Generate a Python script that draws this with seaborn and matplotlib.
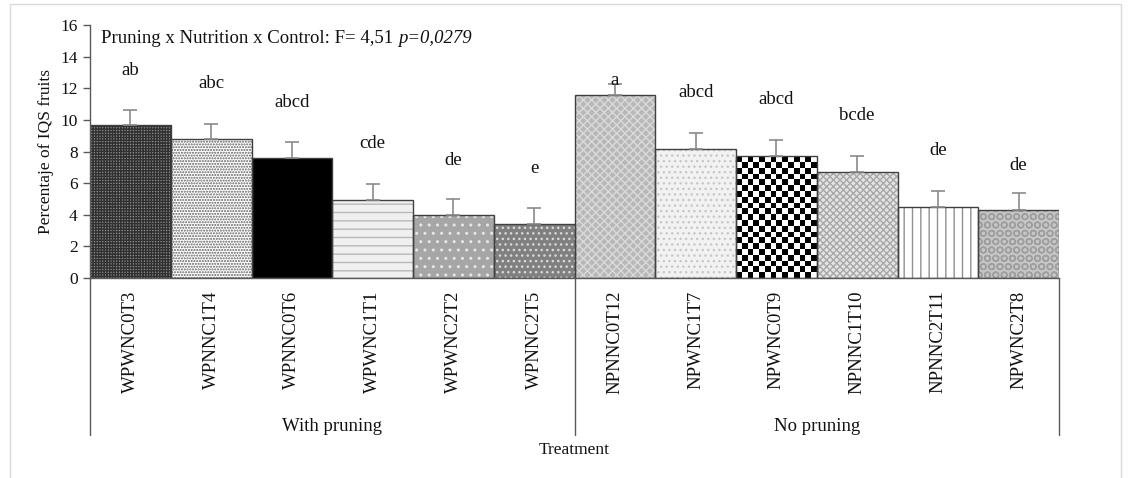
import numpy as np
import pandas as pd
import matplotlib
matplotlib.use("Agg")
import matplotlib.pyplot as plt
import seaborn as sns
from matplotlib.patches import Rectangle

# Data
treatments = ["WPWNC0T3", "WPNNC1T4", "WPNNC0T6", "WPWNC1T1", "WPWNC2T2", "WPNNC2T5",
              "NPNNC0T12", "NPWNC1T7", "NPWNC0T9", "NPNNC1T10", "NPNNC2T11", "NPWNC2T8"]
groups = ["With pruning", "No pruning"]
group_sizes = [6, 6]
means = [9.65, 8.77, 7.59, 4.95, 3.97, 3.41, 11.6, 8.18, 7.74, 6.70, 4.51, 4.32]
errors = [1.0, 1.0, 1.0, 1.0, 1.0, 1.02, 0.67, 1.0, 1.0, 1.02, 1.0, 1.03]
letters = ["ab", "abc", "abcd", "cde", "de", "e", "a", "abcd", "abcd", "bcde", "de", "de"]
letter_y = [13.15, 12.3, 11.1, 8.5, 7.45, 6.95, 12.5, 11.75, 11.3, 10.25, 8.05, 7.1]

# bar styles (face colour, hatch, hatch colour)
faces = ["#8c8c8c", "#ffffff", "#000000", "#f0f0f0", "#a6a6a6", "#808080",
         "#b8b8b8", "#f2f2f2", "#ffffff", "#e4e4e4", "#ffffff", "#c6c6c6"]
hatches = ["++++++", "......", "", "--", "..", "...",
           "xxxx", "...", "", "xxxxx", "||", "OO"]
hatch_cols = ["#303030", "#5f5f5f", "#000000", "#b8b8b8", "#e6e6e6", "#d9d9d9",
              "#dadada", "#c8c8c8", "#000000", "#a8a8a8", "#909090", "#9e9e9e"]

sns.set_theme(style="ticks")
plt.rcParams["font.family"] = ["Liberation Serif", "DejaVu Serif"]
plt.rcParams["hatch.linewidth"] = 1.0

fig = plt.figure(figsize=(11.28, 4.78), dpi=100)
ax = fig.add_axes([90 / 1128, 200 / 478, 969 / 1128, 253 / 478])

df = pd.DataFrame({"treatment": treatments, "value": means})
sns.barplot(data=df, x="treatment", y="value", hue="treatment", palette=faces,
            saturation=1, width=1.0, errorbar=None, legend=False,
            linewidth=0, ax=ax)

for p, h, hc in zip(ax.patches, hatches, hatch_cols):
    p.set_hatch(h)
    p.set_edgecolor(hc)
    p.set_linewidth(0)

xs = np.arange(len(treatments))
ax.bar(xs, means, width=1.0, fill=False, edgecolor="#404040", linewidth=1.0, zorder=2)
ax.errorbar(xs, means, yerr=[np.zeros(len(errors)), errors], fmt="none",
            ecolor="#8a8a8a", elinewidth=1.2, capsize=5, capthick=1.2, zorder=3)

ax.set_xlim(-0.5, len(treatments) - 0.5)
ax.set_ylim(0, 16)

# checkerboard fill for NPWNC0T9
p9 = ax.patches[8]
p9.set_facecolor("none")
bb = ax.get_window_extent()
px_x = bb.width / len(treatments)
px_y = bb.height / 16
ncols = 14
cell = p9.get_width() * px_x / ncols
nrows = int(np.ceil(p9.get_height() * px_y / cell))
board = np.indices((nrows, ncols)).sum(axis=0) % 2
im = ax.imshow(board, cmap="gray", interpolation="nearest", origin="lower", aspect="auto",
               extent=(p9.get_x(), p9.get_x() + p9.get_width(), 0, nrows * cell / px_y),
               zorder=0.9)
im.set_clip_path(p9)
ax.set_xlim(-0.5, len(treatments) - 0.5)
ax.set_ylim(0, 16)

for i, (lab, y) in enumerate(zip(letters, letter_y)):
    ax.text(i, y, lab, ha="center", va="center", fontsize=13.5, color="#111111")

t1 = ax.text(0.011, 0.945, "Pruning x Nutrition x Control: F= 4,51", transform=ax.transAxes,
             ha="left", va="center", fontsize=13.5, color="#111111")
ax.annotate("p=0,0279", xy=(1, 0), xycoords=t1, xytext=(3.5, 0), textcoords="offset points",
            ha="left", va="bottom", fontsize=13.5, style="italic", color="#111111")

# axes styling
axis_col = "#595959"
sns.despine(ax=ax)
for s in ["left", "bottom"]:
    ax.spines[s].set_color(axis_col)
    ax.spines[s].set_linewidth(1.0)
ax.set_yticks(range(0, 17, 2))
ax.tick_params(axis="y", direction="out", length=5, width=1, color=axis_col,
               labelsize=12.5, pad=4, labelcolor="#111111")
ax.tick_params(axis="x", length=0, pad=9, labelrotation=90, labelsize=13.5,
               labelcolor="#111111")
ax.set_xlabel("")
ax.set_ylabel("Percentaje of IQS fruits", fontsize=12.5, color="#111111")
ax.yaxis.set_label_coords(-0.037, 0.5)

# multi-level category axis
trans = ax.get_xaxis_transform()
bounds = np.concatenate([[0], np.cumsum(group_sizes)]) - 0.5
for b in bounds:
    ax.plot([b, b], [0, -0.62], transform=trans, clip_on=False, color=axis_col, lw=1.0)
for g, lo, hi in zip(groups, bounds[:-1], bounds[1:]):
    ax.text((lo + hi) / 2, -0.585, g, transform=trans, ha="center", va="center",
            fontsize=13.5, color="#111111")
ax.text(0.5, -0.68, "Treatment", transform=ax.transAxes, ha="center", va="center",
        fontsize=12.5, color="#111111")

fig.add_artist(Rectangle((10 / 1128, -0.05), 1111 / 1128, 1.0416, transform=fig.transFigure,
                         fill=False, edgecolor="#d9d9d9", linewidth=1.0))

fig.savefig("out.png", dpi=100)
